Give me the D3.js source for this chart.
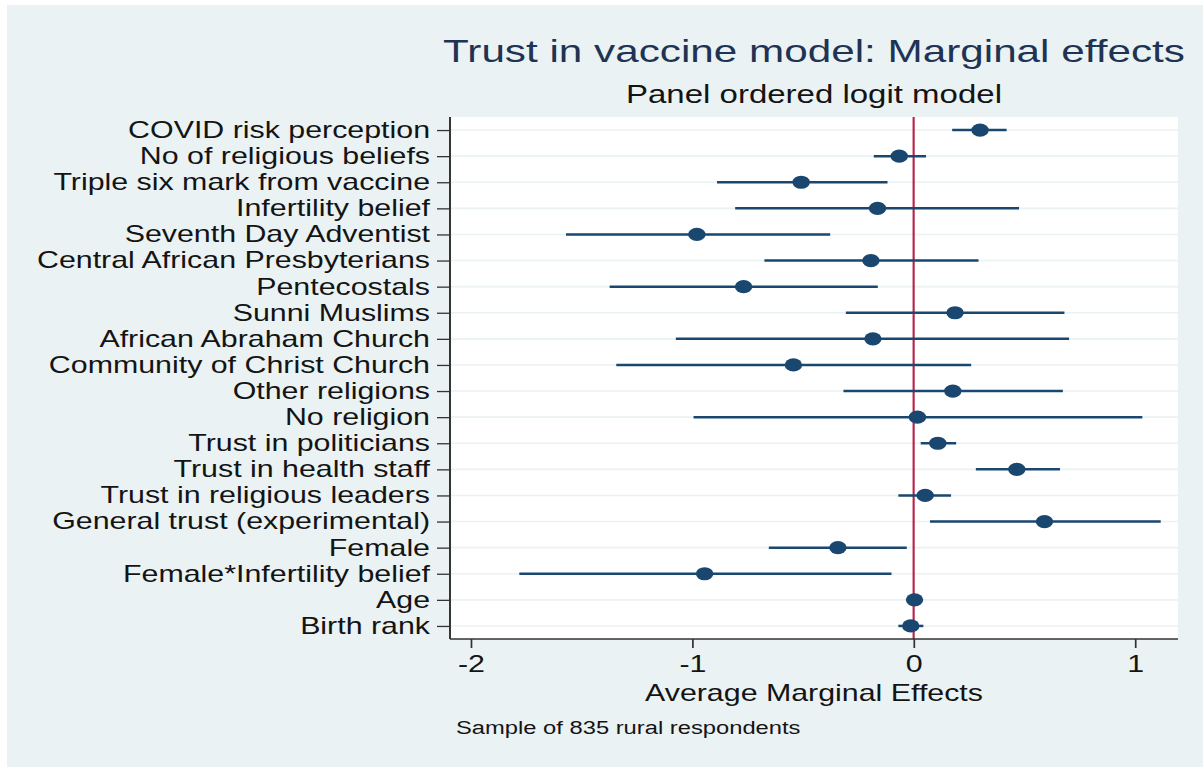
<!DOCTYPE html>
<html>
<head>
<meta charset="utf-8">
<script src="https://cdn.jsdelivr.net/npm/d3@7"></script>
<style>
  body { margin: 0; background: #fff; }
  text { font-family: "Liberation Sans", Arial, sans-serif; }
</style>
</head>
<body>
<div id="plot"></div>
<script>
// marginal effects with 95% intervals
var labels = ["COVID risk perception", "No of religious beliefs", "Triple six mark from vaccine",
  "Infertility belief", "Seventh Day Adventist", "Central African Presbyterians", "Pentecostals",
  "Sunni Muslims", "African Abraham Church", "Community of Christ Church", "Other religions",
  "No religion", "Trust in politicians", "Trust in health staff", "Trust in religious leaders",
  "General trust (experimental)", "Female", "Female*Infertility belief", "Age", "Birth rank"];
var effect = [0.30, -0.065, -0.508, -0.163, -0.979, -0.193, -0.768, 0.187, -0.184, -0.543,
  0.177, 0.017, 0.109, 0.466, 0.052, 0.591, -0.342, -0.944, 0.004, -0.013];
var lower = [0.174, -0.18, -0.888, -0.806, -1.57, -0.674, -1.373, -0.306, -1.074, -1.343,
  -0.317, -0.994, 0.032, 0.281, -0.069, 0.074, -0.654, -1.781, -0.004, -0.069];
var upper = [0.42, 0.056, -0.118, 0.476, -0.377, 0.293, -0.162, 0.681, 0.702, 0.26,
  0.674, 1.033, 0.192, 0.661, 0.169, 1.116, -0.031, -0.10, 0.012, 0.044];
var xTicks = [-2, -1, 0, 1];

var width = 1203;
var height = 767;
var sx = 1.32; // the picture is stretched sideways, so draw narrow and scale x

var navy = "#1a476f";
var bg = "#eaf2f3";

var svg = d3.select("div#plot")
  .append("svg")
  .attr("width", width)
  .attr("height", height);

svg.append("rect").attr("width", width).attr("height", height).attr("fill", "#fff");
svg.append("rect")
  .attr("x", 7).attr("y", 5)
  .attr("width", width - 7).attr("height", height - 5)
  .attr("fill", bg);

var g = svg.append("g").attr("transform", "scale(" + sx + ",1)");

var plotL = 450 / sx, plotR = 1178 / sx, plotT = 117, plotB = 639;
var midX = (plotL + plotR) / 2;

var x = d3.scaleLinear().domain([-2.094, 1.194]).range([plotL, plotR]);
var y = d3.scalePoint().domain(labels).range([plotT, plotB]).padding(0.5);

g.append("rect")
  .attr("x", plotL).attr("y", plotT)
  .attr("width", plotR - plotL).attr("height", plotB - plotT)
  .attr("fill", "#fff");

// grid
g.selectAll("line.grid")
  .data(labels)
  .enter().append("line")
  .attr("class", "grid")
  .attr("x1", plotL).attr("x2", plotR)
  .attr("y1", d => y(d)).attr("y2", d => y(d))
  .attr("stroke", bg)
  .attr("stroke-width", 1.6);

// zero line
g.append("line")
  .attr("x1", x(0)).attr("x2", x(0))
  .attr("y1", plotT).attr("y2", plotB)
  .attr("stroke", "#b8204a")
  .attr("stroke-width", 1.6);

// intervals
g.selectAll("line.ci")
  .data(labels)
  .enter().append("line")
  .attr("class", "ci")
  .attr("x1", (d, i) => x(lower[i]))
  .attr("x2", (d, i) => x(upper[i]))
  .attr("y1", d => y(d)).attr("y2", d => y(d))
  .attr("stroke", navy)
  .attr("stroke-width", 2.5);

// points
g.selectAll("circle")
  .data(labels)
  .enter().append("circle")
  .attr("cx", (d, i) => x(effect[i]))
  .attr("cy", d => y(d))
  .attr("r", 6.6)
  .attr("fill", navy);

// axes
var yAxis = d3.axisLeft(y).tickSize(13 / sx).tickSizeOuter(0).tickPadding(7 / sx);
var ya = g.append("g")
  .attr("transform", "translate(" + plotL + ",0)")
  .call(yAxis);
ya.selectAll("text")
  .attr("font-size", 23)
  .attr("font-family", "Liberation Sans, Arial, sans-serif")
  .attr("fill", "#141414");

var xAxis = d3.axisBottom(x).tickValues(xTicks).tickFormat(d => String(d))
  .tickSize(9).tickSizeOuter(0).tickPadding(8);
var xa = g.append("g")
  .attr("transform", "translate(0," + plotB + ")")
  .call(xAxis);
xa.selectAll("text")
  .attr("font-size", 23)
  .attr("font-family", "Liberation Sans, Arial, sans-serif")
  .attr("fill", "#141414");

// the axis lines span the plot box
xa.select(".domain").attr("d", "M" + plotL + ",0H" + plotR);
ya.select(".domain").attr("d", "M0," + plotT + "V" + plotB);
g.selectAll(".domain").attr("stroke", "#333").attr("stroke-width", 1.5);
g.selectAll(".tick line").attr("stroke", "#333").attr("stroke-width", 1.3);

// titles
g.append("text")
  .attr("x", midX).attr("y", 62)
  .attr("text-anchor", "middle")
  .attr("font-size", 32)
  .attr("fill", "#1f3354")
  .text("Trust in vaccine model: Marginal effects");

g.append("text")
  .attr("x", midX).attr("y", 103)
  .attr("text-anchor", "middle")
  .attr("font-size", 25)
  .attr("fill", "#141414")
  .text("Panel ordered logit model");

g.append("text")
  .attr("x", midX).attr("y", 701)
  .attr("text-anchor", "middle")
  .attr("font-size", 23)
  .attr("fill", "#141414")
  .text("Average Marginal Effects");

g.append("text")
  .attr("x", 456 / sx).attr("y", 734)
  .attr("font-size", 18)
  .attr("fill", "#141414")
  .text("Sample of 835 rural respondents");
</script>
</body>
</html>
